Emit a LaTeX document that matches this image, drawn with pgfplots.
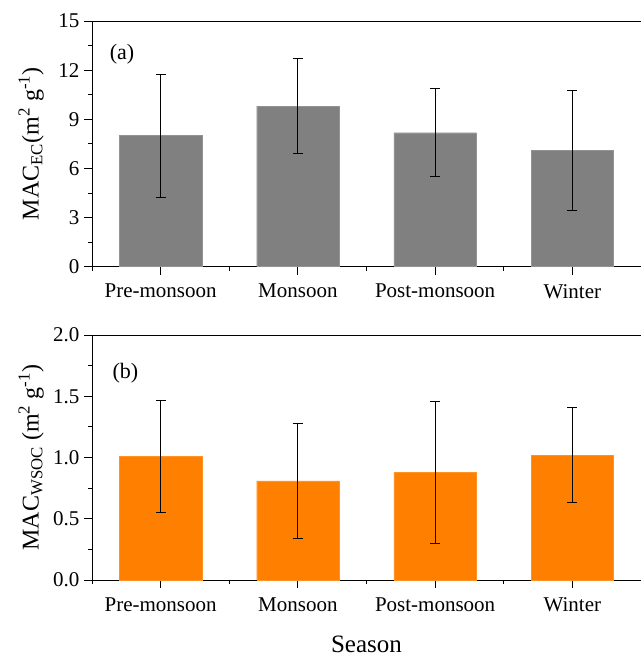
\documentclass[border=0pt]{standalone}
\usepackage{fontspec}
\setmainfont{Liberation Serif}
\usepackage{pgfplots}
\pgfplotsset{compat=1.18}
\usepackage{pgfplotstable}
\definecolor{bargray}{HTML}{808080}
\definecolor{barorange}{HTML}{FF8000}

\pgfplotstableread{
x y ep em
0 8.02 3.74 3.78
1 9.81 2.89 2.89
2 8.18 2.71 2.69
3 7.11 3.66 3.67
}\dataEC
\pgfplotstableread{
x y ep em
0 1.01 0.46 0.46
1 0.81 0.47 0.47
2 0.88 0.58 0.58
3 1.02 0.39 0.39
}\dataWSOC

\pgfplotsset{
  mystyle/.style={
    scale only axis,
    width=549pt,
    xmin=-0.5, xmax=3.5,
    ymin=0,
    axis x line*=bottom,
    axis y line*=left,
    axis line style={-, line width=0.8pt, black},
    tick align=outside,
    major tick length=8pt,
    minor tick length=4pt,
    every tick/.style={black, line width=0.8pt},
    xtick={0,1,2,3},
    xticklabels={Pre-monsoon,Monsoon,Post-monsoon,Winter},
    minor xtick={-0.5,0.5,1.5,2.5},
    tick label style={font=\fontsize{21}{25}\selectfont},
    /pgf/number format/assume math mode=true,
    xticklabel style={yshift=-6pt},
    yticklabel style={xshift=-1pt},
    ylabel style={at={(axis description cs:-0.111,0.5)}, anchor=center, font=\fontsize{24}{28}\selectfont},
    ybar, bar width=0.6,
    clip=false,
  }
}

\begin{document}
\begin{tikzpicture}[x=1pt,y=1pt]
\path[use as bounding box] (0,0) rectangle (641,660);

\begin{axis}[mystyle,
  at={(92pt,393.3pt)}, anchor=south west,
  height=245.7pt,
  ymax=15,
  ytick={0,3,6,9,12,15},
  minor ytick={1.5,4.5,7.5,10.5,13.5},
  ylabel={MAC\textsubscript{EC}(m\textsuperscript{2} g\textsuperscript{-1})},
]
\addplot[fill=bargray, draw=bargray!85!white,
  error bars/.cd, y dir=both, y explicit,
  error bar style={line width=0.8pt, black},
  error mark options={rotate=90, mark size=5pt, line width=0.8pt, black}]
  table[x=x, y=y, y error plus=ep, y error minus=em] {\dataEC};
\draw[line width=0.8pt] (rel axis cs:0,1) -- (rel axis cs:1,1);
\node[anchor=west, font=\fontsize{22}{26}\selectfont] at (rel axis cs:0.026,0.864) {(a)};
\end{axis}

\begin{axis}[mystyle,
  at={(92pt,80pt)}, anchor=south west,
  height=245pt,
  ymax=2,
  ytick={0,0.5,1.0,1.5,2.0},
  minor ytick={0.25,0.75,1.25,1.75},
  yticklabel style={/pgf/number format/.cd, fixed, fixed zerofill, precision=1},
  ylabel={MAC\textsubscript{WSOC} (m\textsuperscript{2} g\textsuperscript{-1})},
  xlabel={Season},
  xlabel style={at={(axis description cs:0.5,-0.262)}, anchor=center, font=\fontsize{25}{30}\selectfont},
]
\addplot[fill=barorange, draw=barorange!85!white,
  error bars/.cd, y dir=both, y explicit,
  error bar style={line width=0.8pt, black},
  error mark options={rotate=90, mark size=5pt, line width=0.8pt, black}]
  table[x=x, y=y, y error plus=ep, y error minus=em] {\dataWSOC};
\draw[line width=0.8pt] (rel axis cs:0,1) -- (rel axis cs:1,1);
\node[anchor=west, font=\fontsize{22}{26}\selectfont] at (rel axis cs:0.031,0.845) {(b)};
\end{axis}
\end{tikzpicture}
\end{document}
